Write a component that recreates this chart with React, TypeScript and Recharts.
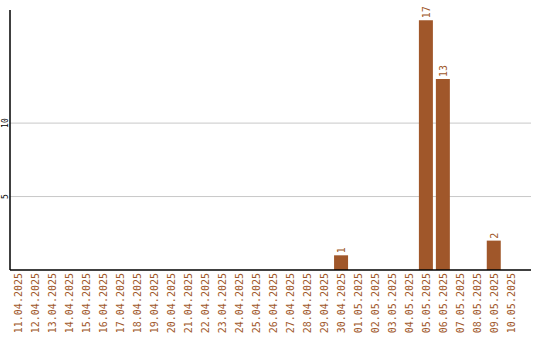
import { BarChart, Bar, XAxis, YAxis, CartesianGrid, LabelList } from 'recharts';

const dates = [
  '11.04.2025', '12.04.2025', '13.04.2025', '14.04.2025', '15.04.2025',
  '16.04.2025', '17.04.2025', '18.04.2025', '19.04.2025', '20.04.2025',
  '21.04.2025', '22.04.2025', '23.04.2025', '24.04.2025', '25.04.2025',
  '26.04.2025', '27.04.2025', '28.04.2025', '29.04.2025', '30.04.2025',
  '01.05.2025', '02.05.2025', '03.05.2025', '04.05.2025', '05.05.2025',
  '06.05.2025', '07.05.2025', '08.05.2025', '09.05.2025', '10.05.2025',
];
const counts = [
  0, 0, 0, 0, 0, 0, 0, 0, 0, 0,
  0, 0, 0, 0, 0, 0, 0, 0, 0, 1,
  0, 0, 0, 0, 17, 13, 0, 0, 2, 0,
];
const yTicks = [5, 10];

const BROWN = '#A0572A';
const FONT = '"DejaVu Sans Mono", monospace';

const data = dates.map((d, i) => ({ date: d, value: counts[i] }));

const renderDateTick = (props: any) => {
  const { x, y, payload } = props;
  const ty = y - 5;
  return (
    <text
      x={x + 4}
      y={ty}
      transform={`rotate(-90, ${x + 4}, ${ty})`}
      textAnchor="end"
      fontSize={10}
      fontFamily={FONT}
      fill={BROWN}
    >
      {payload.value}
    </text>
  );
};

const renderCountTick = (props: any) => {
  const { x, y, payload } = props;
  const bx = x + 5.5;
  return (
    <g transform={`translate(${bx}, ${y}) rotate(-90)`}>
      <text x={0} y={0} textAnchor="middle" fontSize={8} fontFamily={FONT} fill="#000">
        {payload.value}
      </text>
    </g>
  );
};

function ValueLabel(props: any) {
  const { x, y, width, value } = props;
  if (!value) return null;
  const cx = x + width / 2 + 4;
  const cy = y - 2;
  return (
    <text
      x={cx}
      y={cy}
      transform={`rotate(-90, ${cx}, ${cy})`}
      textAnchor="start"
      fontSize={10}
      fontFamily={FONT}
      fill={BROWN}
    >
      {value}
    </text>
  );
}

export default function App() {
  return (
    <div style={{ position: 'fixed', left: 0, top: 0, width: 540, height: 340, background: '#fff' }}>
      <BarChart
        width={540}
        height={340}
        data={data}
        margin={{ top: 10, right: 9, bottom: 0, left: 0 }}
        barCategoryGap="10%"
      >
        <CartesianGrid
          horizontal
          vertical={false}
          stroke="#c8c8c8"
          strokeWidth={1}
          horizontalValues={yTicks}
        />
        <XAxis
          dataKey="date"
          interval={0}
          padding={{ left: 0, right: 12 }}
          axisLine={{ stroke: '#000', strokeWidth: 1.5 }}
          tickLine={false}
          tick={renderDateTick}
          height={70}
        />
        <YAxis
          domain={[0, 17.7]}
          ticks={yTicks}
          interval={0}
          width={10}
          axisLine={{ stroke: '#000', strokeWidth: 1.5 }}
          tickLine={false}
          tick={renderCountTick}
        />
        <Bar dataKey="value" fill={BROWN} isAnimationActive={false}>
          <LabelList dataKey="value" content={<ValueLabel />} />
        </Bar>
      </BarChart>
    </div>
  );
}
